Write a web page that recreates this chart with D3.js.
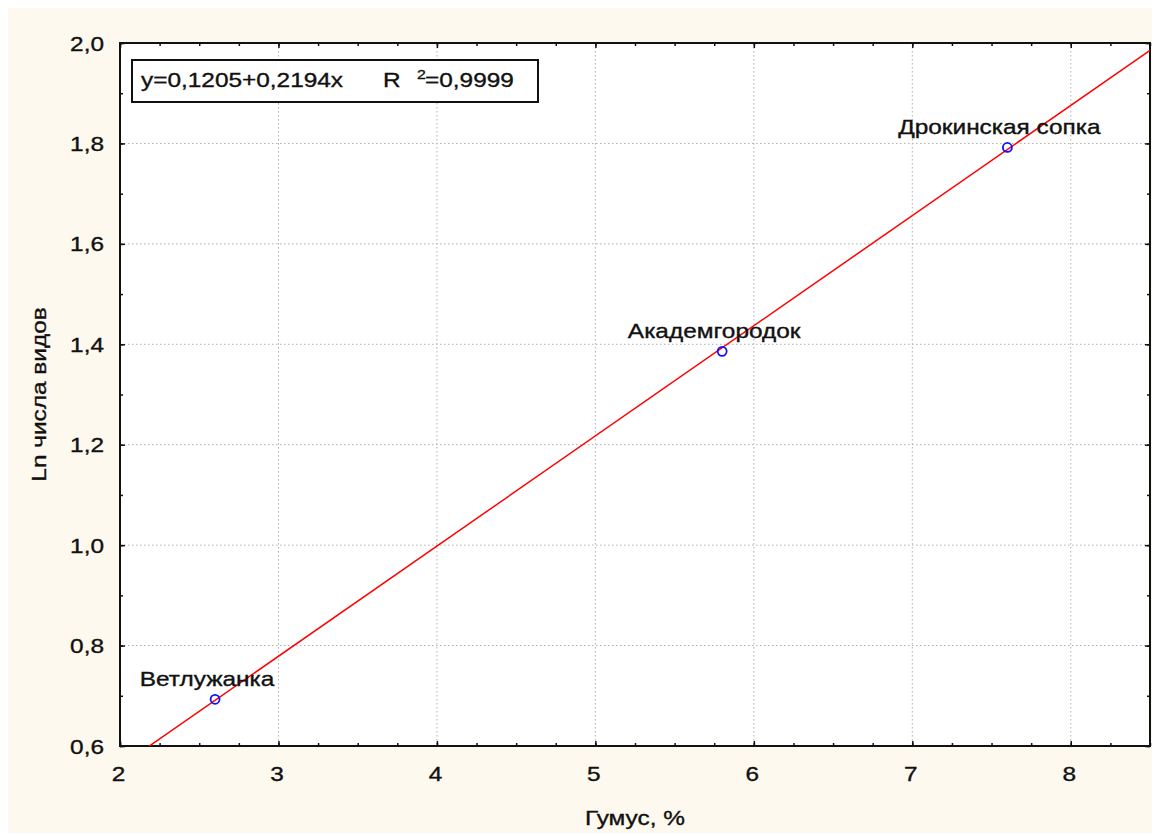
<!DOCTYPE html>
<html>
<head>
<meta charset="utf-8">
<script src="https://cdn.jsdelivr.net/npm/d3@7"></script>
<style>
  body { margin: 0; background: #fff; }
  text { font-family: "Liberation Sans", Arial, sans-serif; fill: #111; stroke: #111; stroke-width: 0.35px; }
</style>
</head>
<body>
<div id="chart"></div>
<script>
// data
const sites = ["Ветлужанка", "Академгородок", "Дрокинская сопка"];
const humus = [2.6, 5.8, 7.6];
const lnSpecies = [0.693, 1.386, 1.792];
const fitIntercept = 0.1205, fitSlope = 0.2194;
const eqText = "y=0,1205+0,2194x", r2Text = "=0,9999";
const xTicks = [2, 3, 4, 5, 6, 7, 8];
const yTicks = [0.6, 0.8, 1.0, 1.2, 1.4, 1.6, 1.8, 2.0];
const xLabel = "Гумус, %", yLabel = "Ln числа видов";

const W = 1161, H = 836;
const SX = 1.22; // text in the source is drawn a bit wide
const plotL = 120, plotR = 1150, plotT = 43, plotB = 746;

const svg = d3.select("#chart").append("svg")
  .attr("width", W).attr("height", H);

svg.append("rect").attr("x", 8).attr("y", 8)
  .attr("width", 1144).attr("height", 825).attr("fill", "#fef9ee");
svg.append("rect").attr("x", plotL).attr("y", plotT)
  .attr("width", plotR - plotL).attr("height", plotB - plotT).attr("fill", "#fff");

const x = d3.scaleLinear().domain([2, 8.5]).range([plotL, plotR]);
const y = d3.scaleLinear().domain([0.6, 2.0]).range([plotB, plotT]);
const fmt = d => d3.format(".1f")(d).replace(".", ",");

function txt(parent, px, py, s, size, anchor) {
  return parent.append("text")
    .attr("transform", `translate(${px},${py}) scale(${SX},1)`)
    .attr("font-size", size)
    .attr("text-anchor", anchor || "start")
    .text(s);
}

// grid
const grid = svg.append("g").attr("stroke", "#b0b0b0").attr("stroke-dasharray", "1.5,2.5");
grid.selectAll(".gx").data(xTicks.slice(1)).enter().append("line")
  .attr("x1", d => x(d)).attr("x2", d => x(d)).attr("y1", plotT).attr("y2", plotB);
grid.selectAll(".gy").data(yTicks.slice(1, -1)).enter().append("line")
  .attr("y1", d => y(d)).attr("y2", d => y(d)).attr("x1", plotL).attr("x2", plotR);

// tick marks, all pointing into the plot
const xMinor = d3.range(2, 8.51, 0.25), yMinor = d3.range(0.6, 2.001, 0.1);
function marks(gen, pos) {
  svg.append("g").attr("transform", pos).call(gen).call(g => {
    g.select(".domain").remove();
    g.selectAll("text").remove();
    g.selectAll("line").attr("stroke", "#111").attr("stroke-width", 1.5);
  });
}
marks(d3.axisBottom(x).tickValues(xMinor).tickSize(-3), `translate(0,${plotB})`);
marks(d3.axisTop(x).tickValues(xMinor).tickSize(-3), `translate(0,${plotT})`);
marks(d3.axisLeft(y).tickValues(yMinor).tickSize(-3), `translate(${plotL},0)`);
marks(d3.axisRight(y).tickValues(yMinor).tickSize(-3), `translate(${plotR},0)`);
marks(d3.axisBottom(x).tickValues(xTicks).tickSize(-5), `translate(0,${plotB})`);
marks(d3.axisTop(x).tickValues(xTicks).tickSize(-5), `translate(0,${plotT})`);
marks(d3.axisLeft(y).tickValues(yTicks).tickSize(-5), `translate(${plotL},0)`);
marks(d3.axisRight(y).tickValues(yTicks).tickSize(-5), `translate(${plotR},0)`);

// tick labels
svg.append("g").attr("transform", `translate(0,${plotB})`)
  .call(d3.axisBottom(x).tickValues(xTicks).tickSize(0).tickFormat(d3.format("d")))
  .call(g => {
    g.select(".domain").remove();
    g.selectAll("text").attr("y", null).attr("dy", null)
      .attr("font-size", 20).attr("fill", "#111")
      .attr("transform", `translate(-2,35) scale(${SX},1)`);
  });
svg.append("g").attr("transform", `translate(${plotL},0)`)
  .call(d3.axisLeft(y).tickValues(yTicks).tickSize(0).tickFormat(fmt))
  .call(g => {
    g.select(".domain").remove();
    g.selectAll("text").attr("x", null).attr("dy", null)
      .attr("font-size", 20).attr("fill", "#111")
      .attr("transform", `translate(-16,7) scale(${SX},1)`);
  });
svg.selectAll("g").attr("font-family", null).attr("font-size", null);

// frame
svg.append("rect").attr("x", plotL).attr("y", plotT)
  .attr("width", plotR - plotL).attr("height", plotB - plotT)
  .attr("fill", "none").attr("stroke", "#111").attr("stroke-width", 2);

// regression line
svg.append("clipPath").attr("id", "clip").append("rect")
  .attr("x", plotL).attr("y", plotT).attr("width", plotR - plotL).attr("height", plotB - plotT);
const line = d3.line().x(d => x(d)).y(d => y(fitIntercept + fitSlope * d));
svg.append("path").attr("clip-path", "url(#clip)")
  .attr("d", line(x.domain()))
  .attr("fill", "none").attr("stroke", "#ff0000").attr("stroke-width", 1.5);

// points + labels
const pts = d3.range(sites.length);
svg.selectAll(".pt").data(pts).enter().append("circle")
  .attr("cx", i => x(humus[i])).attr("cy", i => y(lnSpecies[i])).attr("r", 4.5)
  .attr("fill", "none").attr("stroke", "#1010ff").attr("stroke-width", 1.8);
pts.forEach(i => txt(svg, x(humus[i]) - 8, y(lnSpecies[i]) - 13, sites[i], 20, "middle"));

// equation box
svg.append("rect").attr("x", 132).attr("y", 60).attr("width", 406).attr("height", 42)
  .attr("fill", "#fff").attr("stroke", "#111").attr("stroke-width", 2);
txt(svg, 141, 87, eqText, 20);
txt(svg, 383, 87, "R", 20);
txt(svg, 417, 79, "2", 13);
txt(svg, 425, 87, r2Text, 20);

// axis titles
txt(svg, (plotL + plotR) / 2, 825, xLabel, 20, "middle");
svg.append("text")
  .attr("transform", `translate(46,${(plotT + plotB) / 2}) rotate(-90) scale(${SX},1)`)
  .attr("font-size", 20).attr("text-anchor", "middle").text(yLabel);
</script>
</body>
</html>
